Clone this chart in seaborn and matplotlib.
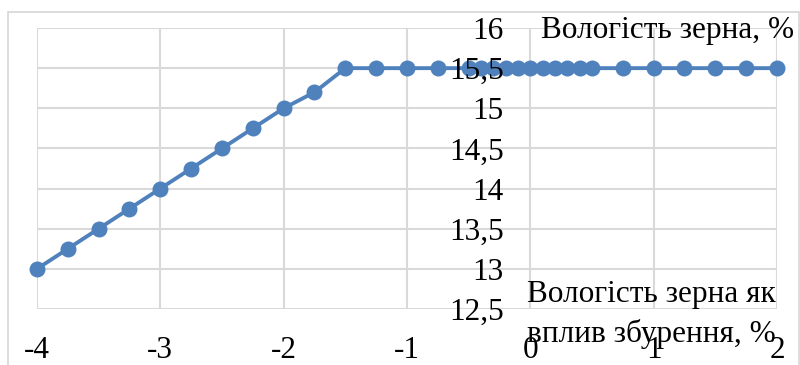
import matplotlib
matplotlib.use("Agg")
import matplotlib.pyplot as plt
import seaborn as sns
import pandas as pd
from matplotlib.patches import Rectangle

# Grain moisture response to a moisture disturbance
disturbance = [-4, -3.75, -3.5, -3.25, -3, -2.75, -2.5, -2.25, -2, -1.75,
               -1.5, -1.25, -1, -0.75, -0.5, -0.4, -0.3, -0.2, -0.1, 0,
               0.1, 0.2, 0.3, 0.4, 0.5, 0.75, 1, 1.25, 1.5, 1.75, 2]
moisture = [13, 13.25, 13.5, 13.75, 14, 14.25, 14.5, 14.75, 15, 15.2,
            15.5, 15.5, 15.5, 15.5, 15.5, 15.5, 15.5, 15.5, 15.5, 15.5,
            15.5, 15.5, 15.5, 15.5, 15.5, 15.5, 15.5, 15.5, 15.5, 15.5, 15.5]

x_ticks = [-4, -3, -2, -1, 0, 1, 2]
x_tick_labels = ["-4", "-3", "-2", "-1", "0", "1", "2"]
y_ticks = [12.5, 13, 13.5, 14, 14.5, 15, 15.5, 16]
y_tick_labels = ["12,5", "13", "13,5", "14", "14,5", "15", "15,5", "16"]

y_title = "Вологість зерна, %"
x_title_lines = ["Вологість зерна як", "вплив збурення, %"]

sns.set_theme(style="white")
plt.rcParams["font.family"] = ["Liberation Serif", "DejaVu Serif"]

W, H = 800, 365
fig = plt.figure(figsize=(8, 3.65), dpi=100)
ax = fig.add_axes([37 / W, 1 - 309 / H, (777 - 37) / W, (309 - 28) / H])

grid_color = "#D9D9D9"
line_color = "#4F81BD"

df = pd.DataFrame({"x": disturbance, "y": moisture})
sns.lineplot(data=df, x="x", y="y", ax=ax, color=line_color, linewidth=2.8,
             marker="o", markersize=11.5, markeredgewidth=0, clip_on=False,
             sort=False, zorder=2)

ax.set_xlim(-4, 2)
ax.set_ylim(12.5, 16)

# gridlines under the series, tick labels above it
for xv in x_ticks:
    ax.axvline(xv, color=grid_color, linewidth=1.5, zorder=0.5)
for yv in y_ticks:
    ax.axhline(yv, color=grid_color, linewidth=1.5, zorder=0.5)
ax.set_axisbelow(False)

ax.set_xticks(x_ticks)
ax.set_xticklabels(x_tick_labels)
ax.set_yticks(y_ticks)
ax.set_yticklabels(y_tick_labels)

ax.spines["left"].set_position(("data", 0))
for s in ax.spines.values():
    s.set_visible(False)

ax.tick_params(axis="both", length=0, labelsize=22.5, colors="black")
ax.tick_params(axis="y", pad=19)
ax.tick_params(axis="x", pad=19.5)
ax.set_xlabel("")
ax.set_ylabel("")

fig.text(541 / W, 1 - 38 / H, y_title, ha="left", va="baseline",
         fontsize=22.5, color="black")
fig.text(527 / W, 1 - 302 / H, x_title_lines[0], ha="left", va="baseline",
         fontsize=22.5, color="black")
fig.text(527 / W, 1 - 342 / H, x_title_lines[1], ha="left", va="baseline",
         fontsize=22.5, color="black")

# chart-area border
fig.patches.append(Rectangle((8 / W, -0.05), (798.5 - 8) / W, 1.05 - 12 / H,
                             transform=fig.transFigure, fill=False,
                             edgecolor=grid_color, linewidth=1.3))

fig.savefig("out.png", dpi=100)
